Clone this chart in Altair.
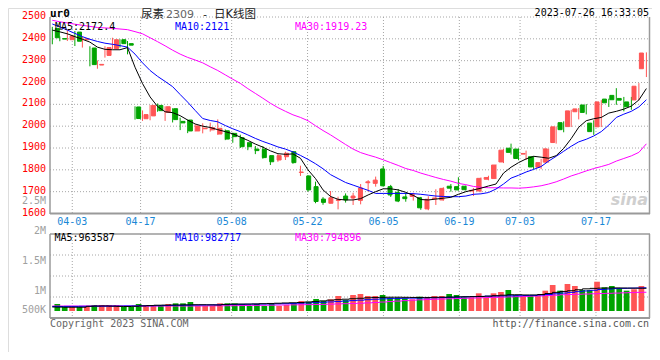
import altair as alt
import pandas as pd

# ---------------- data ----------------
dates = ["03-29", "03-30", "03-31",
         "04-03", "04-04", "04-06", "04-07", "04-10", "04-11", "04-12", "04-13", "04-14",
         "04-17", "04-18", "04-19", "04-20", "04-21", "04-24", "04-25", "04-26", "04-27", "04-28",
         "05-04", "05-05", "05-08", "05-09", "05-10", "05-11", "05-12", "05-15", "05-16", "05-17",
         "05-18", "05-19", "05-22", "05-23", "05-24", "05-25", "05-26", "05-29", "05-30", "05-31",
         "06-01", "06-02", "06-05", "06-06", "06-07", "06-08", "06-09", "06-12", "06-13", "06-14",
         "06-15", "06-16", "06-19", "06-20", "06-21", "06-26", "06-27", "06-28", "06-29", "06-30",
         "07-03", "07-04", "07-05", "07-06", "07-07", "07-10", "07-11", "07-12", "07-13", "07-14",
         "07-17", "07-18", "07-19", "07-20", "07-21", "07-24", "07-25", "07-26"]

opens = [2447, 2401, 2396, 2431, 2396, 2358, 2280, 2324, 2355, 2396,
         2378, 2088, 2034, 2047, 2095, 2063, 2080, 2022, 2028, 1978,
         1988, 1983, 1964, 1979, 1967, 1947, 1924, 1895, 1894, 1865,
         1845, 1860, 1883, 1788, 1772, 1723, 1666, 1647, 1660, 1680,
         1671, 1660, 1741, 1738, 1804, 1723, 1697, 1676, 1678, 1672,
         1621, 1668, 1662, 1725, 1723, 1725, 1703, 1703, 1757, 1760,
         1836, 1899, 1895, 1872, 1860, 1812, 1835, 1925, 2016, 1998,
         2066, 2097, 2014, 1997, 2124, 2141, 2127, 2111, 2120, 2263]
highs = [2455, 2411, 2439, 2436, 2411, 2366, 2301, 2366, 2405, 2398,
         2390, 2091, 2072, 2097, 2104, 2091, 2082, 2039, 2030, 2009,
         2013, 2016, 2031, 1985, 1970, 1961, 1926, 1909, 1909, 1866,
         1872, 1883, 1886, 1819, 1775, 1746, 1675, 1703, 1677, 1692,
         1695, 1735, 1753, 1769, 1818, 1731, 1712, 1695, 1695, 1676,
         1679, 1711, 1720, 1735, 1766, 1728, 1717, 1765, 1773, 1825,
         1896, 1920, 1898, 1888, 1863, 1850, 1897, 1999, 2022, 2075,
         2083, 2101, 2027, 2119, 2126, 2174, 2134, 2134, 2197, 2338]
lows = [2375, 2389, 2390, 2367, 2360, 2274, 2263, 2314, 2352, 2360,
        2329, 2030, 2024, 2027, 2066, 2024, 2017, 1982, 1968, 1975,
        1967, 1975, 1960, 1936, 1924, 1900, 1890, 1872, 1851, 1822,
        1837, 1845, 1828, 1772, 1701, 1647, 1640, 1647, 1619, 1650,
        1639, 1642, 1700, 1723, 1723, 1676, 1652, 1654, 1659, 1617,
        1615, 1639, 1659, 1700, 1705, 1705, 1680, 1697, 1752, 1758,
        1831, 1870, 1844, 1845, 1803, 1803, 1833, 1920, 1972, 1996,
        2031, 2054, 1960, 1996, 2088, 2098, 2068, 2075, 2118, 2225]
closes = [2405, 2399, 2413, 2389, 2400, 2282, 2283, 2360, 2396, 2378,
          2371, 2035, 2053, 2095, 2071, 2089, 2030, 2015, 1978, 2001,
          1991, 1993, 1990, 1941, 1952, 1906, 1906, 1888, 1856, 1837,
          1865, 1876, 1833, 1790, 1708, 1655, 1651, 1672, 1663, 1662,
          1680, 1717, 1745, 1753, 1727, 1685, 1657, 1668, 1688, 1626,
          1665, 1671, 1715, 1716, 1708, 1709, 1706, 1761, 1765, 1822,
          1890, 1880, 1852, 1875, 1813, 1833, 1896, 1997, 1984, 2070,
          2079, 2063, 1975, 2111, 2107, 2121, 2119, 2089, 2183, 2335]

ma5 = [2440, 2432, 2423, 2410, 2398, 2385, 2362, 2352, 2350, 2350,
       2360, 2270, 2195, 2134, 2090, 2066, 2062, 2048, 2028, 2010,
       2000, 1994, 1984, 1975, 1965, 1950, 1935, 1918, 1904, 1887,
       1874, 1871, 1873, 1853, 1800, 1760, 1708, 1678, 1665, 1662,
       1662, 1668, 1685, 1700, 1713, 1713, 1708, 1697, 1683, 1664,
       1662, 1666, 1670, 1674, 1688, 1700, 1708, 1716, 1726, 1735,
       1785, 1812, 1833, 1850, 1862, 1858, 1853, 1865, 1898, 1943,
       1995, 2025, 2034, 2040, 2060, 2068, 2078, 2092, 2120, 2172.4]
ma10 = [2468, 2455, 2440, 2425, 2410, 2398, 2388, 2380, 2375, 2369,
        2362, 2330, 2290, 2255, 2228, 2205, 2181, 2145, 2110, 2072,
        2035, 2026, 2020, 2003, 1988, 1975, 1960, 1944, 1930, 1918,
        1905, 1895, 1882, 1866, 1848, 1828, 1805, 1778, 1760, 1742,
        1730, 1718, 1706, 1692, 1692, 1692, 1692, 1692, 1691, 1688,
        1684, 1680, 1678, 1677, 1677, 1680, 1688, 1690, 1696, 1712,
        1735, 1762, 1775, 1790, 1802, 1815, 1840, 1862, 1885, 1908,
        1928, 1940, 1955, 1975, 2005, 2040, 2055, 2068, 2088, 2121]
ma30 = [2485, 2478, 2473, 2467, 2462, 2457, 2452, 2450, 2448, 2445,
        2442, 2433, 2423, 2405, 2387, 2368, 2348, 2330, 2315, 2303,
        2290, 2272, 2255, 2235, 2215, 2196, 2172, 2150, 2128, 2105,
        2085, 2068, 2052, 2040, 2025, 2002, 1980, 1960, 1938, 1916,
        1895, 1879, 1868, 1858, 1846, 1833, 1820, 1806, 1797, 1785,
        1775, 1765, 1756, 1748, 1738, 1732, 1724, 1720, 1718, 1718,
        1717, 1717, 1716, 1718, 1722, 1727, 1735, 1745, 1758, 1772,
        1783, 1795, 1806, 1815, 1825, 1840, 1852, 1864, 1880, 1919.23]

volumes = [297000, 182000, 182000, 182000, 182000, 254000, 254000, 254000, 254000, 182000,
           182000, 297000, 254000, 254000, 254000, 297000, 325000, 325000, 382000, 212000,
           212000, 212000, 325000, 325000, 325000, 297000, 212000, 297000, 212000, 297000,
           212000, 254000, 325000, 424000, 396000, 509000, 424000, 495000, 636000, 466000,
           678000, 721000, 636000, 636000, 678000, 564000, 564000, 537000, 495000, 607000,
           580000, 636000, 636000, 721000, 678000, 580000, 580000, 750000, 580000, 750000,
           806000, 890000, 678000, 636000, 636000, 678000, 862000, 1102000, 862000, 1145000,
           1060000, 890000, 890000, 1242000, 1005000, 1060000, 962000, 862000, 920000, 1060000]

vma5 = [170000, 165000, 160000, 160000, 160000, 200000, 210000, 215000, 205000, 195000,
        190000, 200000, 215000, 230000, 245000, 250000, 255000, 255000, 260000, 265000,
        265000, 260000, 255000, 280000, 290000, 295000, 295000, 300000, 310000, 320000,
        330000, 340000, 350000, 360000, 380000, 400000, 430000, 460000, 480000, 500000,
        520000, 540000, 560000, 575000, 580000, 585000, 585000, 580000, 575000, 575000,
        575000, 580000, 585000, 590000, 600000, 605000, 610000, 615000, 630000, 650000,
        670000, 690000, 690000, 680000, 680000, 700000, 740000, 790000, 830000, 860000,
        900000, 940000, 960000, 970000, 975000, 980000, 975000, 970000, 968000, 963587]
vma10 = [190000, 190000, 195000, 195000, 200000, 200000, 205000, 205000, 210000, 210000,
         215000, 215000, 220000, 220000, 225000, 230000, 235000, 240000, 245000, 250000,
         255000, 260000, 265000, 270000, 275000, 280000, 285000, 290000, 295000, 300000,
         305000, 310000, 320000, 330000, 340000, 355000, 370000, 385000, 400000, 420000,
         440000, 460000, 480000, 500000, 515000, 525000, 535000, 540000, 545000, 550000,
         555000, 560000, 570000, 580000, 590000, 600000, 610000, 620000, 630000, 635000,
         640000, 645000, 650000, 655000, 660000, 680000, 700000, 730000, 760000, 790000,
         820000, 850000, 880000, 910000, 930000, 950000, 960000, 970000, 975000, 982717]
vma30 = [212000, 212000, 212000, 212000, 212000, 212000, 212000, 212000, 212000, 212000,
         212000, 212000, 212000, 212000, 212000, 212000, 212000, 212000, 212000, 212000,
         215000, 218000, 220000, 223000, 226000, 230000, 234000, 238000, 242000, 246000,
         250000, 255000, 260000, 265000, 270000, 275000, 280000, 290000, 300000, 310000,
         320000, 330000, 345000, 360000, 380000, 400000, 420000, 440000, 460000, 475000,
         490000, 500000, 510000, 520000, 530000, 540000, 550000, 560000, 570000, 580000,
         590000, 600000, 610000, 620000, 630000, 640000, 655000, 670000, 690000, 700000,
         710000, 720000, 730000, 740000, 750000, 760000, 770000, 780000, 790000, 794896]

price_ticks = [1600, 1700, 1800, 1900, 2000, 2100, 2200, 2300, 2400, 2500]
date_ticks = ["04-03", "04-17", "05-08", "05-22", "06-05", "06-19", "07-03", "07-17"]

# ---------------- styling ----------------
RED = "#ff5555"
GREEN = "#00a400"
GRID = "#a6a6a6"
FRAME = "#9a9a9a"
MONO = "DejaVu Sans Mono"
CJK = "DejaVu Sans, Noto Sans CJK SC"

n = len(dates)
df = pd.DataFrame({
    "i": list(range(n)), "date": dates,
    "open": opens, "high": highs, "low": lows, "close": closes,
    "vol": volumes, "ma5": ma5, "ma10": ma10, "ma30": ma30,
    "vma5": vma5, "vma10": vma10, "vma30": vma30,
})
df["dir"] = ["up" if c >= o else "down" for o, c in zip(opens, closes)]

X_C = alt.Scale(domain=[0, n - 1], range=[44.3, 638.4], nice=False, zero=False)
X_G = alt.Scale(domain=[0, n - 1], range=[41.5, 641.1], nice=False, zero=False)
Y_P = alt.Scale(domain=[1600, 2500], range=[205.5, 9], nice=False, zero=False)
Y_V = alt.Scale(domain=[0, 1000000], range=[303, 279.42], nice=False, zero=False)
COL = alt.Scale(domain=["up", "down"], range=[RED, GREEN])

one = pd.DataFrame({"k": [0]})
layers = []


def rule(x1, x2, y1, y2, color, width=1, dash=None):
    kw = dict(color=color, strokeWidth=width)
    if dash:
        kw["strokeDash"] = dash
    return alt.Chart(one).mark_rule(**kw).encode(
        x=alt.value(x1), x2=alt.value(x2), y=alt.value(y1), y2=alt.value(y2))


def txt(s, x, y, color, size=10, align="left", font=MONO, weight="normal",
        baseline="middle", style="normal"):
    return alt.Chart(pd.DataFrame({"t": [s]})).mark_text(
        align=align, baseline=baseline, fontSize=size, font=font, color=color,
        fontWeight=weight, fontStyle=style).encode(
        x=alt.value(x), y=alt.value(y), text="t:N")


# ---------- grid ----------
grid_p = pd.DataFrame({"p": [p for p in price_ticks if p > 1600]})
layers.append(alt.Chart(grid_p).mark_rule(color=GRID, strokeDash=[1, 2]).encode(
    y=alt.Y("p:Q", scale=Y_P, axis=None), x=alt.value(42), x2=alt.value(641.5)))
gd = pd.DataFrame({"i": [dates.index(d) for d in date_ticks], "lab": date_ticks})
layers.append(alt.Chart(gd).mark_rule(color=GRID, strokeDash=[1, 2]).encode(
    x=alt.X("i:Q", scale=X_G, axis=None), y=alt.value(9), y2=alt.value(205.5)))
layers.append(alt.Chart(gd).mark_rule(color=GRID, strokeDash=[1, 2]).encode(
    x=alt.X("i:Q", scale=X_G, axis=None), y=alt.value(226), y2=alt.value(310)))
vq = pd.DataFrame({"q": [1, 2, 3]})
layers.append(alt.Chart(vq).mark_rule(color=GRID, strokeDash=[1, 2]).encode(
    y=alt.Y("q:Q", scale=alt.Scale(domain=[0, 4], range=[310, 226], nice=False), axis=None),
    x=alt.value(42), x2=alt.value(641.5)))

# ---------- frames ----------
layers += [
    rule(42, 42, 9, 206, FRAME, 1.5),
    rule(641.5, 641.5, 9, 206, FRAME, 1.5),
    rule(42, 642, 205.5, 205.5, FRAME, 2),
    rule(42, 642, 226, 226, FRAME, 1.5),
    rule(42, 642, 310, 310, FRAME, 2),
    rule(42, 42, 226, 310, FRAME, 1.5),
    rule(641.5, 641.5, 226, 310, FRAME, 1.5),
]

# ---------- candles ----------
layers.append(alt.Chart(df).mark_rule(strokeWidth=1).encode(
    x=alt.X("i:Q", scale=X_C, axis=None),
    y=alt.Y("low:Q", scale=Y_P, axis=None), y2="high:Q",
    color=alt.Color("dir:N", scale=COL, legend=None)))
layers.append(alt.Chart(df).mark_bar(size=4, strokeWidth=1).encode(
    x=alt.X("i:Q", scale=X_C, axis=None),
    y=alt.Y("open:Q", scale=Y_P, axis=None), y2="close:Q",
    color=alt.Color("dir:N", scale=COL, legend=None),
    stroke=alt.Stroke("dir:N", scale=COL, legend=None)))

# ---------- price MAs ----------
for col, c in [("ma30", "#ff00ff"), ("ma10", "#0000ff"), ("ma5", "#000000")]:
    layers.append(alt.Chart(df).mark_line(color=c, strokeWidth=1).encode(
        x=alt.X("i:Q", scale=X_C, axis=None),
        y=alt.Y(f"{col}:Q", scale=Y_P, axis=None)))

# ---------- volume ----------
layers.append(alt.Chart(df).mark_bar(size=5.7).encode(
    x=alt.X("i:Q", scale=X_C, axis=None),
    y=alt.Y("vol:Q", scale=Y_V, axis=None), y2=alt.datum(0),
    color=alt.Color("dir:N", scale=COL, legend=None)))
for col, c in [("vma30", "#ff00ff"), ("vma10", "#0000ff"), ("vma5", "#000000")]:
    layers.append(alt.Chart(df).mark_line(color=c, strokeWidth=1, interpolate="step").encode(
        x=alt.X("i:Q", scale=X_C, axis=None),
        y=alt.Y(f"{col}:Q", scale=Y_V, axis=None)))

# ---------- axis labels ----------
layers.append(alt.Chart(pd.DataFrame({"p": price_ticks})).mark_text(
    align="right", baseline="middle", fontSize=10, font=MONO, color="#ff0000", dy=-1).encode(
    y=alt.Y("p:Q", scale=Y_P, axis=None), x=alt.value(38), text="p:Q"))
layers.append(alt.Chart(gd).mark_text(
    align="center", baseline="middle", fontSize=10, font=MONO, color="#1a88d6").encode(
    x=alt.X("i:Q", scale=X_G, axis=None), y=alt.value(213.5), text="lab:N"))

VG = "#a0a0a0"
layers += [
    txt("2.5M", 38, 192.5, VG, align="right"),
    txt("2M", 38, 223, VG, align="right"),
    txt("1.5M", 38, 253, VG, align="right"),
    txt("1M", 38, 283, VG, align="right"),
    txt("500K", 38, 302.3, VG, align="right"),
]

# ---------- legends / titles ----------
layers += [
    txt(f"MA5:{ma5[-1]}", 47, 18.8, "#000000"),
    txt(f"MA10:{ma10[-1]}", 167, 18.8, "#0000ff"),
    txt(f"MA30:{ma30[-1]}", 287, 18.8, "#ff00ff"),
    txt(f"MA5:{vma5[-1]}", 46.5, 230, "#000000"),
    txt(f"MA10:{vma10[-1]}", 167, 230, "#0000ff"),
    txt(f"MA30:{vma30[-1]}", 287, 230, "#ff00ff"),
    txt("ur0", 42, 8.5, "#000000", size=11, weight="bold", baseline="alphabetic"),
    txt("尿素", 133, 10.4, "#222222", size=11.5, font=CJK, baseline="alphabetic"),
    txt("2309", 158, 10.4, "#666666", size=11, font="DejaVu Sans", baseline="alphabetic"),
    txt("-", 197, 10.4, "#222222", size=11, font=MONO, align="center", baseline="alphabetic"),
    txt("日K线图", 206, 10.4, "#222222", size=11.5, font=CJK, baseline="alphabetic"),
    txt("2023-07-26 16:33:05", 641, 7.5, "#000000", align="right", baseline="alphabetic"),
    txt("Copyright 2023 SINA.COM", 42, 316, "#666666"),
    txt("http://finance.sina.com.cn", 641, 316, "#555555", align="right"),
    txt("sina", 640, 197, "#cfcfcf", size=16, font="DejaVu Sans", weight="bold",
        baseline="alphabetic", align="right", style="italic"),
]

chart = alt.layer(*layers).resolve_scale(
    x="independent", y="independent", color="independent", stroke="independent"
).properties(
    width=644, height=344, padding=0,
    autosize=alt.AutoSizeParams(type="none"),
).configure_view(stroke=None).configure(background="white")

chart.save("out.html", embed_options={"renderer": "svg", "actions": False})
